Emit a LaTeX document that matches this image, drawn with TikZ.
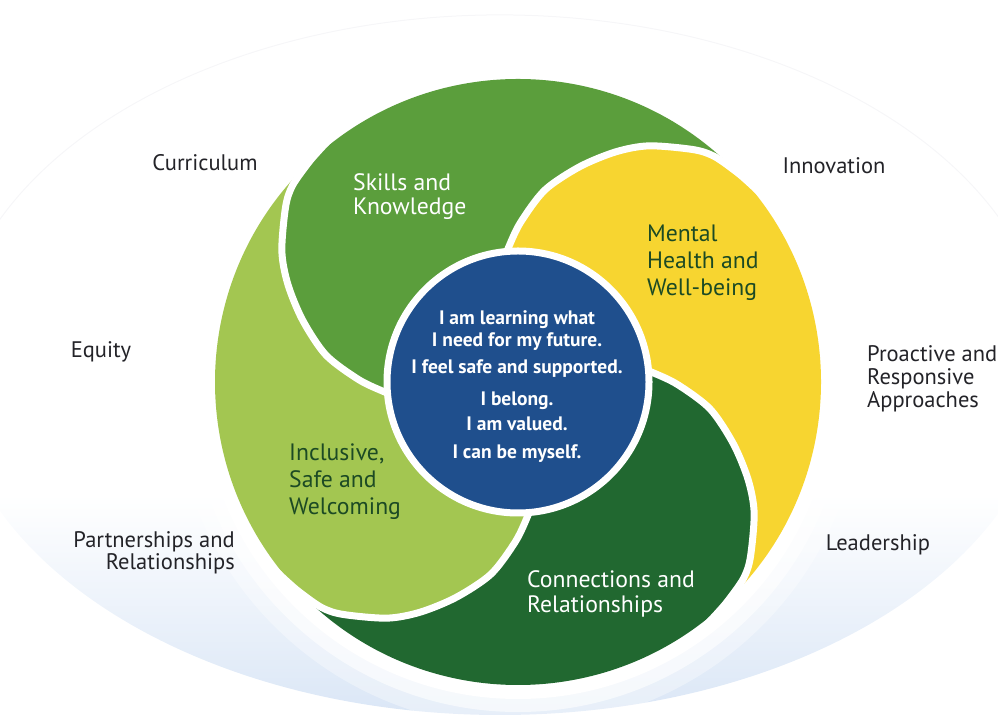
\documentclass[tikz,border=0pt]{standalone}
\usepackage{fontspec}
\setmainfont{PT Sans}
\definecolor{skillsgreen}{RGB}{91,158,60}
\definecolor{leafgreen}{RGB}{163,198,81}
\definecolor{forestgreen}{RGB}{33,104,48}
\definecolor{sunyellow}{RGB}{247,213,48}
\definecolor{coreblue}{RGB}{31,79,141}
\definecolor{deepgreentext}{RGB}{28,74,36}
\definecolor{labelink}{RGB}{35,35,40}
\definecolor{haze}{RGB}{218,230,246}
\definecolor{rim}{RGB}{246,246,248}

% one quarter of the swirl: outer arc plus the two spiral edges
\newcommand{\swirlpiece}[2]{%
  \begin{scope}[rotate=#1]
    \fill[#2] (44:303) arc[start angle=44, end angle=134, radius=303pt]
      -- plot[smooth] coordinates {(134:303) (139:299) (143:291) (151:270) (157:250) (164:224) (172:194) (179:160) (184:135) (190:110) (198:85)}
      -- (0,0)
      -- plot[smooth] coordinates {(108:85) (100:110) (94:135) (89:160) (82:194) (74:224) (67:250) (61:270) (53:291) (49:299) (44:303)}
      -- cycle;
  \end{scope}}
% white gap along one spiral edge, entering from just outside the rim
\newcommand{\swirlgap}[1]{%
  \draw[white, line width=7pt, rotate=#1] plot[smooth] coordinates {(127:308) (131:305) (134:303) (139:299) (143:291) (151:270) (157:250) (164:224) (172:194) (179:160) (184:135) (190:110) (198:85)};}

\begin{document}
\begin{tikzpicture}[x=1pt, y=1pt,
  outerlabel/.style={font=\fontsize{22.5}{25}\selectfont, text=labelink, inner sep=0pt},
  whitelabel/.style={font=\fontsize{23.7}{24}\selectfont, text=white, align=left, anchor=west, inner sep=0pt},
  darklabel/.style={font=\fontsize{23.7}{27}\selectfont, text=deepgreentext, align=left, anchor=west, inner sep=0pt},
  coretext/.style={font=\bfseries\fontsize{19.5}{22}\selectfont, text=white, align=center, inner sep=0pt}]
\useasboundingbox (0,0) rectangle (998,725);

% soft oval backdrop, bluish towards the bottom
\begin{scope}
  \clip (500,360) ellipse [x radius=550, y radius=350];
  \shade[top color=white, bottom color=haze] (-60,8) rectangle (1060,230);
\end{scope}
\draw[rim, line width=1pt] (500,360) ++(20:550 and 350) arc[start angle=20, end angle=160, x radius=550, y radius=350];
\fill[white, opacity=0.35] (518,343) circle (345);
\fill[white, opacity=0.6] (518,343) circle (330);
\fill[white] (518,343) circle (317);

% the four swirl quarters
\begin{scope}[shift={(518,343)}]
  \swirlpiece{0}{skillsgreen}
  \swirlpiece{-90}{sunyellow}
  \swirlpiece{-180}{forestgreen}
  \swirlpiece{90}{leafgreen}
  \swirlgap{0}
  \swirlgap{-90}
  \swirlgap{-180}
  \swirlgap{90}
  \node[circle, fill=coreblue, draw=white, line width=7pt, minimum size=262pt, inner sep=0pt] (core) at (0,0) {};
\end{scope}

\node[coretext] (corewords) at (517,338.5) {I am learning what\\I need for my future.\\[5pt]I feel safe and supported.\\[10pt]I belong.\\[3pt]I am valued.\\[6pt]I can be myself.};

% labels inside the quarters
\node[whitelabel] (skills) at (353,528) {Skills and\\Knowledge};
\node[darklabel] (mental) at (647,462) {Mental\\Health and\\Well-being};
\node[darklabel] (inclusive) at (289,243) {Inclusive,\\Safe and\\Welcoming};
\node[whitelabel, font=\fontsize{23.7}{25}\selectfont] (connections) at (527,131) {Connections and\\Relationships};

% labels around the wheel
\node[outerlabel] (curriculum) at (205,562) {Curriculum};
\node[outerlabel] (innovation) at (834,559) {Innovation};
\node[outerlabel] (equity) at (101,373) {Equity};
\node[outerlabel, anchor=west, align=left, font=\fontsize{22.5}{23}\selectfont] (proactive) at (867,346) {Proactive and\\Responsive\\Approaches};
\node[outerlabel, anchor=east, align=right, font=\fontsize{22.5}{22}\selectfont] (partnerships) at (235,172) {Partnerships and\\Relationships};
\node[outerlabel] (leadership) at (878,180) {Leadership};
\end{tikzpicture}
\end{document}
